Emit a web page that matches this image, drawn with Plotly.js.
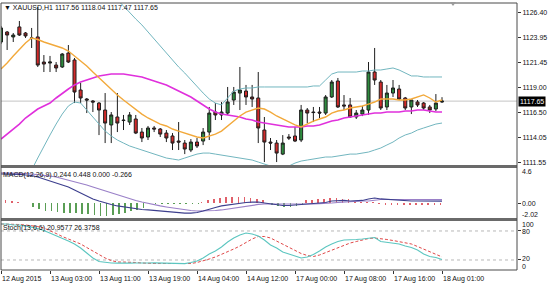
<!DOCTYPE html>
<html><head><meta charset="utf-8">
<script src="https://cdn.plot.ly/plotly-3.0.1.min.js"></script>
<style>html,body{margin:0;padding:0;background:#fff}#chart{width:550px;height:286px}</style>
</head><body><div id="chart"></div>
<script>
const symbol = 'XAUUSD,H1';
const open  = [1123.50,1124.49,1124.00,1124.99,1124.39,1123.90,1124.00,1121.52,1121.42,1121.22,1121.03,1122.41,1121.72,1118.75,1117.86,1117.66,1117.46,1116.77,1115.29,1116.08,1115.78,1115.58,1115.88,1114.59,1114.10,1114.99,1114.89,1114.49,1114.20,1113.70,1113.50,1112.81,1113.60,1113.70,1114.59,1116.57,1116.28,1116.47,1117.76,1118.45,1118.65,1118.06,1117.96,1114.79,1113.60,1113.50,1112.41,1114.10,1114.20,1113.80,1116.77,1116.57,1116.57,1116.47,1118.06,1119.64,1117.27,1117.27,1116.08,1116.37,1116.77,1120.53,1119.54,1117.07,1118.45,1118.85,1117.96,1117.07,1117.56,1117.46,1117.07,1116.87,1117.56];
const high  = [1125.09,1124.59,1124.39,1125.58,1124.49,1124.89,1126.97,1122.21,1122.12,1121.52,1122.41,1123.20,1121.92,1119.44,1117.96,1117.76,1117.56,1118.45,1116.57,1118.45,1116.28,1116.57,1116.28,1114.99,1115.19,1115.19,1114.99,1114.79,1114.49,1115.58,1113.80,1113.90,1114.00,1114.99,1117.07,1117.46,1117.56,1119.05,1119.05,1121.03,1119.25,1119.25,1120.53,1116.08,1114.00,1113.80,1114.29,1114.39,1115.09,1117.27,1116.97,1117.07,1117.07,1118.25,1119.74,1119.94,1118.25,1117.96,1116.77,1117.17,1121.52,1122.91,1119.74,1119.25,1119.74,1119.25,1118.06,1117.76,1117.76,1117.56,1117.27,1118.35,1118.04];
const low   = [1123.30,1122.71,1123.50,1124.10,1123.90,1122.91,1121.03,1120.53,1120.53,1120.53,1120.93,1121.42,1117.46,1117.46,1116.47,1116.57,1114.29,1113.50,1113.50,1114.59,1114.79,1115.29,1114.39,1113.60,1113.80,1114.59,1114.10,1113.60,1112.81,1112.81,1112.41,1112.61,1113.01,1113.30,1113.80,1115.78,1115.78,1116.28,1117.27,1116.77,1117.27,1117.07,1113.50,1111.62,1112.81,1111.62,1112.31,1113.80,1113.60,1113.60,1115.48,1115.58,1115.98,1116.28,1117.96,1116.97,1116.77,1115.98,1115.88,1116.17,1116.28,1119.25,1116.77,1116.77,1118.06,1117.76,1116.77,1116.37,1117.07,1116.77,1116.47,1116.67,1117.47];
const close = [1124.89,1124.19,1124.19,1124.19,1124.10,1123.87,1121.22,1121.32,1121.52,1120.93,1122.31,1121.52,1118.55,1117.96,1117.76,1117.56,1116.77,1115.48,1116.28,1115.48,1115.73,1116.28,1114.49,1114.00,1114.99,1114.89,1114.39,1114.00,1113.50,1113.60,1112.91,1113.60,1113.21,1114.59,1116.47,1116.28,1116.57,1117.56,1118.55,1118.75,1118.06,1117.86,1114.99,1113.60,1113.50,1112.51,1113.50,1114.00,1113.70,1116.77,1116.47,1116.52,1116.47,1118.06,1119.54,1117.07,1117.17,1116.08,1116.47,1116.77,1120.53,1119.74,1116.97,1118.45,1118.95,1117.86,1116.97,1117.76,1117.27,1116.97,1116.77,1117.46,1117.65];

const maFast = [1120.83,1121.42,1122.12,1122.81,1123.40,1123.90,1123.75,1123.50,1123.30,1123.11,1122.91,1122.61,1122.12,1121.62,1121.13,1120.53,1119.94,1119.34,1118.75,1118.26,1117.76,1117.27,1116.87,1116.37,1115.98,1115.68,1115.38,1115.19,1114.89,1114.69,1114.49,1114.30,1114.10,1114.00,1114.20,1114.39,1114.69,1115.19,1115.68,1116.18,1116.57,1116.77,1116.97,1116.87,1116.57,1116.18,1115.88,1115.58,1115.29,1115.09,1115.38,1115.68,1115.88,1116.08,1116.47,1116.67,1116.77,1116.97,1117.07,1117.17,1117.36,1117.56,1117.86,1117.86,1117.86,1117.76,1117.76,1117.86,1118.06,1118.26,1117.96,1117.56,1117.76];
const maSlow = [1113.90,1114.39,1114.89,1115.38,1115.98,1116.47,1116.87,1117.17,1117.46,1117.96,1118.45,1118.85,1119.25,1119.54,1119.74,1119.94,1120.14,1120.23,1120.33,1120.33,1120.33,1120.23,1120.14,1120.04,1119.84,1119.64,1119.44,1119.25,1118.95,1118.65,1118.35,1118.06,1117.66,1117.27,1116.87,1116.57,1116.37,1116.28,1116.18,1116.08,1115.88,1115.78,1115.58,1115.48,1115.38,1115.29,1115.19,1115.09,1115.09,1115.09,1115.19,1115.19,1115.29,1115.48,1115.68,1115.78,1115.98,1116.08,1116.18,1116.28,1116.37,1116.47,1116.47,1116.57,1116.57,1116.57,1116.67,1116.67,1116.77,1116.77,1116.67,1116.57,1116.57];
const bbUpper = [1129.8,1130.0,1130.2,1130.3,1130.4,1130.5,1130.6,1130.6,1130.5,1130.4,1130.2,1129.84,1129.44,1129.05,1128.65,1128.25,1128.06,1127.86,1127.76,1127.66,1127.07,1126.37,1125.78,1125.19,1124.49,1123.90,1123.20,1122.41,1121.72,1121.03,1120.43,1119.74,1119.05,1118.45,1117.86,1117.46,1117.27,1117.96,1118.65,1118.85,1118.95,1118.95,1119.05,1119.05,1119.05,1119.05,1119.05,1119.05,1119.05,1119.05,1119.05,1119.15,1119.15,1119.74,1120.33,1120.53,1120.53,1120.53,1120.53,1120.63,1120.63,1120.73,1120.73,1120.83,1120.93,1120.73,1120.43,1120.14,1120.14,1120.04,1120.04,1120.04,1120.04];
const bbLower = [1107.86,1108.36,1109.05,1109.64,1110.24,1110.83,1112.02,1113.21,1114.30,1115.38,1116.37,1117.17,1117.56,1117.46,1116.77,1116.08,1115.29,1114.69,1114.20,1113.80,1113.50,1113.21,1113.01,1112.81,1112.61,1112.41,1112.22,1112.02,1111.92,1111.82,1112.02,1112.22,1112.41,1112.51,1112.51,1112.41,1112.31,1112.22,1112.12,1112.02,1111.92,1111.82,1111.62,1111.42,1111.23,1111.03,1111.03,1111.23,1111.52,1111.72,1111.82,1111.92,1112.02,1112.12,1112.12,1112.22,1112.31,1112.41,1112.41,1112.51,1112.61,1112.81,1113.01,1113.31,1113.60,1114.00,1114.30,1114.49,1114.79,1114.99,1115.19,1115.38,1115.48];

const macdMain = [3.71,3.71,3.71,3.65,3.58,3.52,3.33,3.07,2.82,2.56,2.31,2.05,1.67,1.29,0.91,0.53,0.27,0.02,-0.17,-0.36,-0.49,-0.62,-0.75,-0.81,-0.87,-0.94,-1.00,-1.06,-1.13,-1.19,-1.26,-1.26,-1.19,-1.00,-0.75,-0.56,-0.36,-0.24,-0.11,0.02,0.08,0.14,0.14,0.02,-0.11,-0.24,-0.30,-0.30,-0.24,-0.11,-0.05,0.02,0.02,0.08,0.27,0.34,0.34,0.27,0.27,0.34,0.53,0.65,0.53,0.46,0.46,0.40,0.34,0.27,0.27,0.24,0.24,0.24,0.244];
const macdSignal = [3.84,3.84,3.84,3.84,3.77,3.71,3.65,3.58,3.45,3.33,3.14,2.95,2.75,2.56,2.31,2.05,1.80,1.54,1.29,1.04,0.78,0.53,0.34,0.14,-0.05,-0.24,-0.36,-0.49,-0.62,-0.75,-0.87,-0.94,-1.00,-1.00,-1.00,-0.94,-0.87,-0.75,-0.62,-0.49,-0.36,-0.24,-0.17,-0.11,-0.11,-0.11,-0.17,-0.17,-0.17,-0.17,-0.11,-0.11,-0.05,-0.05,0.02,0.08,0.14,0.21,0.21,0.27,0.27,0.40,0.46,0.46,0.46,0.46,0.46,0.46,0.46,0.46,0.46,0.46,0.448];
const macdHistRed = [0.40,0.35,0.25,0.15,0.05,null,null,null,null,null,null,null,null,null,null,null,null,null,null,null,null,null,null,null,null,null,null,null,null,null,null,null,null,0.1,0.45,0.55,0.65,0.75,0.8,0.8,0.75,0.65,0.55,0.35,null,null,null,null,null,null,0.35,0.45,0.5,0.55,0.6,0.6,0.55,0.5,0.2,0.15,0.15,0.15,-0.15,-0.2,-0.2,-0.2,-0.2,-0.25,-0.25,-0.25,-0.25,-0.27,-0.266];
const macdHistGreen = [null,null,null,null,null,-0.50,-0.75,-0.95,-1.05,-1.15,-1.2,-1.25,-1.3,-1.35,-1.4,-1.5,-1.6,-1.6,-1.5,-1.35,-1.2,-1.0,-0.85,-0.65,-0.1,-0.06,-0.06,-0.06,-0.06,-0.06,-0.06,-0.06,-0.06,null,null,null,null,null,null,null,null,null,null,null,-0.3,-0.4,-0.45,-0.45,-0.35,-0.2,null,null,null,null,null,null,null,null,null,null,null,null,null,null,null,null,null,null,null,null,null,null,null];
const macdLegend = ['0.244','0.448','0.000','-0.266'];

const stochK = [94.4,94.4,92.3,92.3,90.3,88.2,85.1,81.0,75.8,70.6,65.5,59.3,53.1,44.8,34.4,24.1,16.9,14.8,13.8,13.5,14.2,13.6,13.9,13.4,13.8,14.1,13.5,13.2,12.7,12.9,12.5,14.8,17.9,24.1,32.4,38.6,46.9,57.2,65.5,71.7,75.8,73.8,69.6,61.3,51.0,44.8,36.5,32.4,28.2,24.1,26.2,31.3,38.6,46.9,53.1,58.2,61.3,61.3,62.4,63.4,65.5,66.5,58.2,56.2,55.1,53.1,48.9,45.8,40.6,32.4,27.2,25.1,20.9577];
const stochD = [94.4,94.4,94.4,93.4,92.3,91.3,89.2,86.1,81.0,74.8,68.6,63.4,58.2,53.1,45.8,38.6,31.3,24.1,18.9,15.8,15.8,15.8,14.8,13.8,12.7,12.7,12.7,12.7,11.7,11.7,11.7,12.7,14.8,17.9,22.0,26.2,31.3,36.5,42.7,48.9,56.2,63.4,68.6,68.6,65.5,59.3,53.1,46.9,40.6,33.4,29.3,27.2,30.3,35.5,40.6,45.8,51.0,55.1,58.2,61.3,64.4,65.5,64.4,62.4,60.3,58.2,56.2,53.1,47.9,42.7,36.5,31.3,26.3758];
const stochLevels = [80, 20];

const priceTicks = [1126.40,1123.95,1121.45,1119.00,1116.50,1114.05,1111.55];
const macdTicks = [4.6, 0, -2.02];
const macdTickText = ['4.6','0.00','-2.02'];
const stochTicks = [100, 80, 20, 0];
const timeTickIdx = [0,8,16,24,32,40,48,56,64,72];
const timeTickText = ['12 Aug 2015','13 Aug 03:00','13 Aug 11:00','13 Aug 19:00','14 Aug 04:00','14 Aug 12:00','17 Aug 00:00','17 Aug 08:00','17 Aug 16:00','18 Aug 01:00'];

// ---- layout geometry ----
const W = 550, H = 286, ML = 1, MR = 33, MT = 3, MB = 16;
const PH = H - MT - MB, PW = W - ML - MR;
const py = y => (H - MB - y) / PH;      // pixel row -> paper fraction
const px = x => (x - ML) / PW;          // pixel col -> paper fraction
const FONT = 'Liberation Sans, Arial, sans-serif';
const N = open.length;
const idx = open.map((_, i) => i);
const last = N - 1;

const traces = [
  {type:'candlestick', x: idx, open, high, low, close, xaxis:'x', yaxis:'y',
   increasing:{line:{color:'#1e1e1e', width:1}, fillcolor:'#2e8b3e'},
   decreasing:{line:{color:'#1e1e1e', width:1}, fillcolor:'#d22a2a'},
   whiskerwidth:0, hoverinfo:'skip', showlegend:false},
  {type:'scatter', mode:'lines', x: idx, y: bbUpper, yaxis:'y', line:{color:'#72b6bf', width:1}, hoverinfo:'skip'},
  {type:'scatter', mode:'lines', x: idx, y: bbLower, yaxis:'y', line:{color:'#72b6bf', width:1}, hoverinfo:'skip'},
  {type:'scatter', mode:'lines', x: idx, y: maSlow, yaxis:'y', line:{color:'#e030dc', width:1.6}, hoverinfo:'skip'},
  {type:'scatter', mode:'lines', x: idx, y: maFast, yaxis:'y', line:{color:'#f2a93b', width:1.4}, hoverinfo:'skip'},

  {type:'bar', x: idx, y: macdHistRed, yaxis:'y2', width:0.26, marker:{color:'#e0606a'}, hoverinfo:'skip'},
  {type:'bar', x: idx, y: macdHistGreen, yaxis:'y2', width:0.26, marker:{color:'#5a9e55'}, hoverinfo:'skip'},
  {type:'scatter', mode:'lines', x: idx, y: macdSignal, yaxis:'y2', line:{color:'#9a80c8', width:1.2}, hoverinfo:'skip'},
  {type:'scatter', mode:'lines', x: idx, y: macdMain, yaxis:'y2', line:{color:'#3d3f8e', width:1.2}, hoverinfo:'skip'},

  {type:'scatter', mode:'lines', x: idx, y: stochD, yaxis:'y3', line:{color:'#e04848', width:1, dash:'3px,2px'}, hoverinfo:'skip'},
  {type:'scatter', mode:'lines', x: idx, y: stochK, yaxis:'y3', line:{color:'#5cc6c0', width:1.1}, hoverinfo:'skip'}
];

const axisCommon = {showgrid:false, zeroline:false, showline:false, fixedrange:true};
const yTickCommon = Object.assign({}, axisCommon, {side:'right', anchor:'x', ticks:'outside', ticklen:3, tickwidth:1, tickcolor:'#333', tickfont:{family:FONT, size:7, color:'#111'}});

const shapes = [
  {type:'line', xref:'paper', yref:'y', x0:0, x1:1, y0:close[last], y1:close[last], line:{color:'#c4c4c4', width:1}, layer:'below'}
];
stochLevels.forEach(v => shapes.push({type:'line', xref:'paper', yref:'y3', x0:0, x1:1, y0:v, y1:v, line:{color:'#b8b8b8', width:1, dash:'dot'}, layer:'below'}));
shapes.push({type:'line', xref:'paper', yref:'paper', x0:0, x1:1, y0:py(166.5), y1:py(166.5), line:{color:'#6a6a6a', width:3}});
shapes.push({type:'line', xref:'paper', yref:'paper', x0:0, x1:1, y0:py(219.5), y1:py(219.5), line:{color:'#6a6a6a', width:3}});
shapes.push({type:'rect', xref:'paper', yref:'paper', x0:0, x1:1, y0:0, y1:1, line:{color:'#4a4a4a', width:1}});
// chart-shift marker at the top edge
shapes.push({type:'path', xref:'paper', yref:'paper', path:`M ${px(450)} ${py(2)} L ${px(456)} ${py(2)} L ${px(453)} ${py(6)} Z`, fillcolor:'#9a9a9a', line:{width:0}});

const txt = (extra) => Object.assign({showarrow:false, font:{family:FONT, size:7, color:'#111'}, borderpad:0}, extra);
const annotations = [
  txt({xref:'paper', yref:'paper', x:px(3), y:py(7.5), xanchor:'left', yanchor:'middle',
       text:'▼ ' + symbol + ' ' + [open[last], high[last], low[last], close[last]].map(v => v.toFixed(2)).join(' ')}),
  txt({xref:'paper', yref:'paper', x:px(2), y:py(175), xanchor:'left', yanchor:'middle',
       text:'MACD(12,26,9) ' + macdLegend.join(' ')}),
  txt({xref:'paper', yref:'paper', x:px(2), y:py(228), xanchor:'left', yanchor:'middle',
       text:'Stoch(13,6,6) ' + stochK[last].toFixed(4) + ' ' + stochD[last].toFixed(4)}),
  txt({xref:'paper', yref:'y', x:1, y:close[last], xanchor:'left', yanchor:'middle', xshift:1,
       text:close[last].toFixed(2), bgcolor:'#000', borderpad:1, font:{family:FONT, size:7, color:'#fff'}}),
  txt({xref:'paper', yref:'y2', x:1, y:macdTicks[0], xanchor:'left', yanchor:'top', xshift:4, text:macdTickText[0]}),
  txt({xref:'paper', yref:'y2', x:1, y:macdTicks[1], xanchor:'left', yanchor:'middle', xshift:4, text:macdTickText[1]}),
  txt({xref:'paper', yref:'y2', x:1, y:macdTicks[2], xanchor:'left', yanchor:'bottom', xshift:4, text:macdTickText[2]}),
  txt({xref:'paper', yref:'y3', x:1, y:stochTicks[0], xanchor:'left', yanchor:'top', xshift:4, yshift:1, text:String(stochTicks[0])}),
  txt({xref:'paper', yref:'y3', x:1, y:stochTicks[1], xanchor:'left', yanchor:'middle', xshift:4, yshift:-1, text:String(stochTicks[1])}),
  txt({xref:'paper', yref:'y3', x:1, y:stochTicks[2], xanchor:'left', yanchor:'middle', xshift:4, yshift:1, text:String(stochTicks[2])}),
  txt({xref:'paper', yref:'y3', x:1, y:stochTicks[3], xanchor:'left', yanchor:'bottom', xshift:4, yshift:-1, text:String(stochTicks[3])})
];
timeTickIdx.forEach((ix, k) => annotations.push(
  txt({xref:'x', yref:'paper', x:ix, y:py(278.5), xanchor:'left', yanchor:'middle', xshift:0, text:timeTickText[k]})
));

const layout = {
  width:W, height:H, margin:{l:ML, r:MR, t:MT, b:MB},
  paper_bgcolor:'#fff', plot_bgcolor:'#fff', showlegend:false, hovermode:false,
  bargap:0,
  xaxis: Object.assign({}, axisCommon, {range:[0, PW/6.125], anchor:'y3', tickvals:timeTickIdx, ticks:'outside', ticklen:3, tickcolor:'#333', showticklabels:false, rangeslider:{visible:false}}),
  yaxis: Object.assign({}, yTickCommon, {domain:[py(166), 1], range:[1111.23, 1127.36], tickvals:priceTicks, ticktext:priceTicks.map(v => v.toFixed(2))}),
  yaxis2: Object.assign({}, yTickCommon, {domain:[py(219), py(167)], range:[-2.02, 4.6], tickvals:[0], showticklabels:false}),
  yaxis3: Object.assign({}, yTickCommon, {domain:[0, py(220)], range:[-0.7, 102.7], tickvals:stochLevels, showticklabels:false}),
  shapes, annotations
};

Plotly.newPlot('chart', traces, layout, {displayModeBar:false, staticPlot:true});
</script></body></html>
